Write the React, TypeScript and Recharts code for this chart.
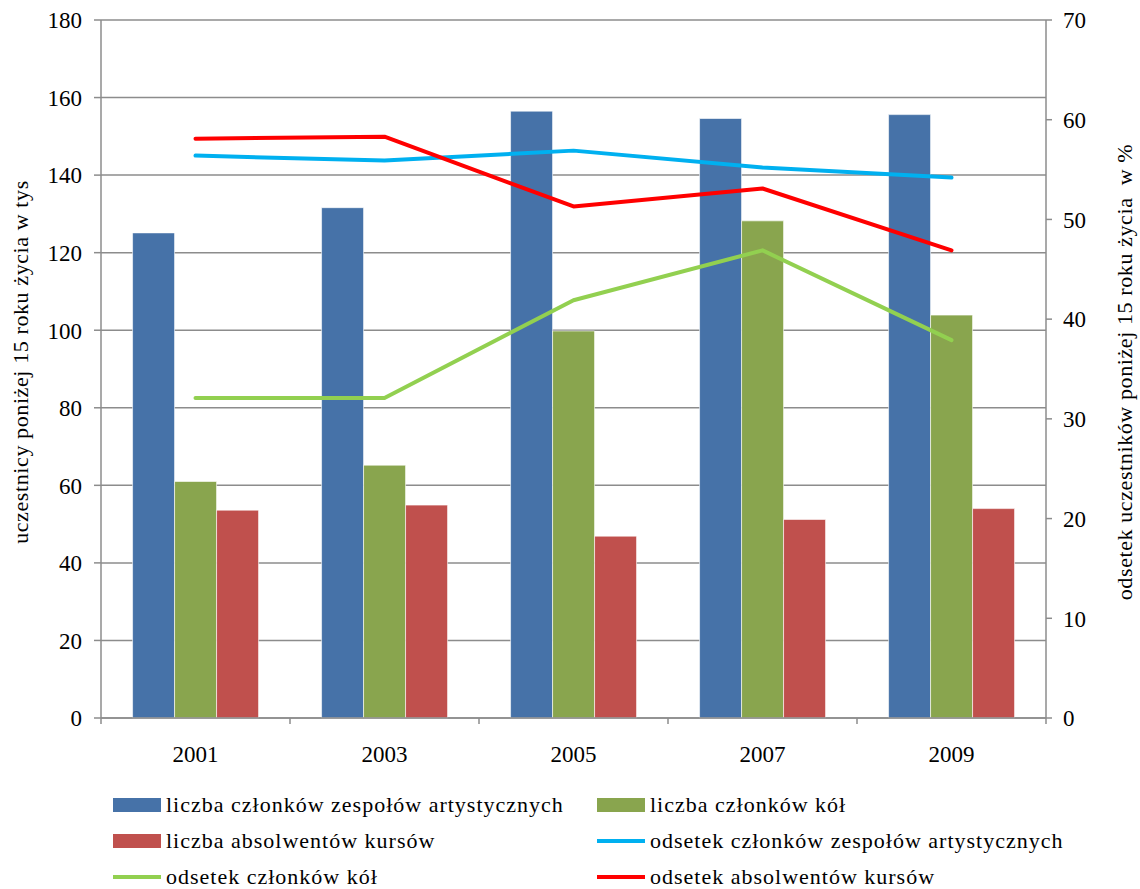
import React from 'react';
import { ComposedChart, Bar, Line, XAxis, YAxis, CartesianGrid } from 'recharts';

const years = ['2001', '2003', '2005', '2007', '2009'];
const zespolyCount = [125.1, 131.6, 156.5, 154.6, 155.6];
const kolaCount = [61.0, 65.2, 99.8, 128.2, 103.9];
const kursyCount = [53.6, 54.9, 46.9, 51.2, 54.0];
const zespolyPct = [56.4, 55.9, 56.9, 55.2, 54.2];
const kolaPct = [32.1, 32.1, 41.9, 46.9, 37.9];
const kursyPct = [58.1, 58.3, 51.3, 53.1, 46.9];
const leftTicks = [0, 20, 40, 60, 80, 100, 120, 140, 160, 180];
const rightTicks = [0, 10, 20, 30, 40, 50, 60, 70];

const seriesNames = [
  'liczba członków zespołów artystycznych',
  'liczba członków kół',
  'liczba absolwentów kursów',
  'odsetek członków zespołów artystycznych',
  'odsetek członków kół',
  'odsetek absolwentów kursów',
];
const seriesColors = ['#4672A8', '#89A54E', '#C0504D', '#00B0F0', '#92D050', '#FF0000'];
const seriesKinds = ['bar', 'bar', 'bar', 'line', 'line', 'line'];

const leftTitle = 'uczestnicy poniżej 15 roku życia w tys';
const rightTitle = 'odsetek uczestników poniżej 15 roku życia  w %';

const data = years.map((y, i) => ({
  year: y,
  zc: zespolyCount[i],
  kc: kolaCount[i],
  ac: kursyCount[i],
  zp: zespolyPct[i],
  kp: kolaPct[i],
  ap: kursyPct[i],
}));

const W = 1140;
const H = 889;
const LEFT_W = 101;
const RIGHT_W = 94;
const PLOT_W = W - LEFT_W - RIGHT_W;
const HALF_BAND = PLOT_W / years.length / 2;
const FONT = 'Liberation Serif, DejaVu Serif, serif';
const AXIS_COLOR = '#8C8C8C';

const XTick = (props: any) => {
  const { x, y, payload, index } = props;
  const isLast = index === years.length - 1;
  return (
    <g>
      <line x1={x - HALF_BAND} x2={x - HALF_BAND} y1={y} y2={y + 6} stroke={AXIS_COLOR} strokeWidth={1.5} />
      {isLast && (
        <line x1={x + HALF_BAND} x2={x + HALF_BAND} y1={y} y2={y + 6} stroke={AXIS_COLOR} strokeWidth={1.5} />
      )}
      <text x={x} y={y + 44} textAnchor="middle" fontSize={23} style={{ fontFamily: FONT }} fill="#000">
        {payload.value}
      </text>
    </g>
  );
};

const YTick = (props: any) => {
  const { x, y, payload, textAnchor } = props;
  return (
    <text x={x} y={y} dy="0.36em" textAnchor={textAnchor} fontSize={23} style={{ fontFamily: FONT }} fill="#000">
      {payload.value}
    </text>
  );
};

export default function App() {
  const keys = ['zc', 'kc', 'ac', 'zp', 'kp', 'ap'];
  return (
    <div style={{ position: 'absolute', left: 0, top: 0, width: W, height: H, background: '#fff', fontFamily: FONT }}>
      <ComposedChart
        width={W}
        height={H}
        data={data}
        margin={{ top: 20, right: 0, bottom: 111, left: 0 }}
        barCategoryGap="16.7%"
        barGap={0}
        style={{ fontFamily: FONT }}
      >
        <CartesianGrid vertical={false} stroke={AXIS_COLOR} strokeWidth={1.5} yAxisId="left" />
        <XAxis
          dataKey="year"
          height={60}
          tickLine={false}
          tickSize={0}
          tickMargin={0}
          axisLine={{ stroke: AXIS_COLOR, strokeWidth: 1.5 }}
          tick={<XTick />}
          interval={0}
        />
        <YAxis
          yAxisId="left"
          orientation="left"
          width={LEFT_W}
          domain={[0, 180]}
          ticks={leftTicks}
          interval={0}
          tick={<YTick />}
          tickSize={7}
          tickMargin={12}
          tickLine={{ stroke: AXIS_COLOR, strokeWidth: 1.5 }}
          axisLine={{ stroke: AXIS_COLOR, strokeWidth: 1.5 }}
        />
        <YAxis
          yAxisId="right"
          orientation="right"
          width={RIGHT_W}
          domain={[0, 70]}
          ticks={rightTicks}
          interval={0}
          tick={<YTick />}
          tickSize={6}
          tickMargin={11}
          tickLine={{ stroke: AXIS_COLOR, strokeWidth: 1.5 }}
          axisLine={{ stroke: AXIS_COLOR, strokeWidth: 1.5 }}
        />
        {keys.slice(0, 3).map((k, i) => (
          <Bar
            key={k}
            dataKey={k}
            name={seriesNames[i]}
            yAxisId="left"
            fill={seriesColors[i]}
            stroke="#ffffff"
            strokeOpacity={0.6}
            strokeWidth={1}
            isAnimationActive={false}
          />
        ))}
        {keys.slice(3).map((k, j) => (
          <Line
            key={k}
            dataKey={k}
            name={seriesNames[j + 3]}
            yAxisId="right"
            type="linear"
            stroke={seriesColors[j + 3]}
            strokeWidth={4}
            strokeLinejoin="round"
            strokeLinecap="round"
            dot={false}
            activeDot={false}
            isAnimationActive={false}
          />
        ))}
      </ComposedChart>
      <svg
        width={W}
        height={H}
        style={{ position: 'absolute', left: 0, top: 0, pointerEvents: 'none' }}
      >
        <text
          x={0}
          y={0}
          transform="translate(28, 362) rotate(-90)"
          textAnchor="middle"
          fontSize={22}
          letterSpacing={0.6}
          style={{ fontFamily: FONT }}
          fill="#000"
        >
          {leftTitle}
        </text>
        <text
          x={0}
          y={0}
          transform="translate(1132, 372) rotate(-90)"
          textAnchor="middle"
          fontSize={22}
          letterSpacing={0.6}
          style={{ fontFamily: FONT, whiteSpace: 'pre' }}
          fill="#000"
        >
          {rightTitle}
        </text>
      </svg>
      {seriesNames.map((name, i) => {
        const col = i % 2;
        const row = Math.floor(i / 2);
        const left = col === 0 ? 113 : 597;
        const top = 805 + row * 36;
        const isBar = seriesKinds[i] === 'bar';
        return (
          <div
            key={name}
            style={{
              position: 'absolute',
              left,
              top: top - 11,
              height: 22,
              lineHeight: '22px',
              display: 'flex',
              alignItems: 'center',
              fontFamily: FONT,
              fontSize: 22,
              letterSpacing: 1,
              color: '#000',
              whiteSpace: 'nowrap',
            }}
          >
            <div
              style={{
                width: 48,
                height: isBar ? 14 : 4,
                background: seriesColors[i],
                marginRight: 5,
              }}
            />
            <span>{name}</span>
          </div>
        );
      })}
    </div>
  );
}
